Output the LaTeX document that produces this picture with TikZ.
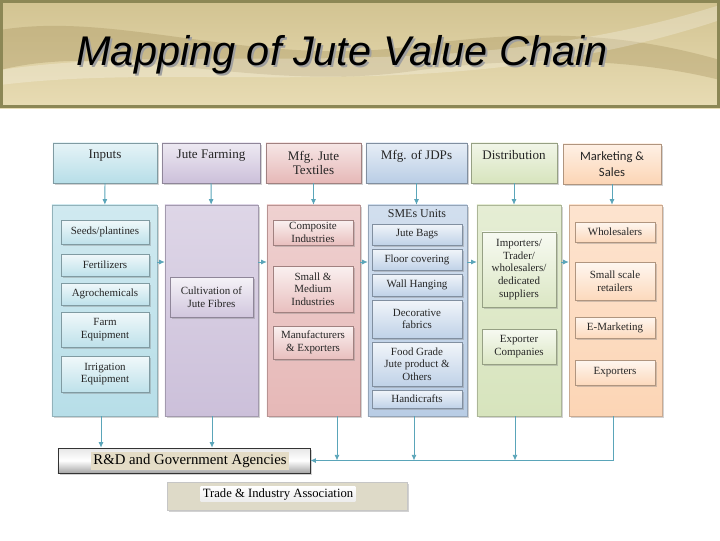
\documentclass[tikz,border=0pt]{standalone}
\usepackage{fontspec}
\setmainfont{Liberation Serif}
\newfontfamily\titlefont{Liberation Sans}
\newfontfamily\calfont{Carlito}
\usetikzlibrary{positioning,arrows.meta,calc,shadows}
\definecolor{inpc}{RGB}{183,222,232}
\definecolor{farmc}{RGB}{204,192,218}
\definecolor{texc}{RGB}{230,184,183}
\definecolor{jdpc}{RGB}{185,205,229}
\definecolor{distc}{RGB}{215,228,189}
\definecolor{mktc}{RGB}{252,213,181}
\definecolor{arrc}{RGB}{90,165,185}
\definecolor{goldl}{RGB}{232,220,180}
\definecolor{goldm}{RGB}{210,195,145}
\definecolor{goldd}{RGB}{165,145,92}
\definecolor{bordc}{RGB}{140,135,85}
\definecolor{tradec}{RGB}{222,218,200}
\definecolor{rdtxtc}{RGB}{228,220,198}

\begin{document}
\begin{tikzpicture}[x=0.025cm, y=-0.025cm,
  shad/.style={drop shadow={shadow xshift=1.2pt, shadow yshift=-1.2pt, opacity=.35}},
  hdr/.style={draw=#1!70!black, line width=.3pt, top color=#1!35, bottom color=#1,
    minimum height=1cm, align=center, font=\fontsize{9.3}{10.5}\selectfont, text=black!85, shad},
  hdrtop/.style={hdr=#1, text depth=12pt},
  col/.style={draw=#1!80!black, line width=.3pt, top color=#1!65, bottom color=#1,
    minimum height=5.275cm, shad},
  itm/.style={draw=#1!70!black, line width=.3pt, top color=#1!20, bottom color=#1!90,
    align=center, inner sep=1pt, font=\fontsize{7.8}{9}\selectfont, text=black!85, shad},
  arr/.style={draw=arrc, line width=.6pt, -{Latex[length=4pt, width=3.5pt]}},
  ttl/.style={font=\titlefont\itshape\fontsize{29.5}{32}\selectfont}]
  \useasboundingbox (0,0) rectangle (720,540);
  \fill[white] (0,0) rectangle (720,540);

  % banner
  \shade[top color=goldm, bottom color=goldl] (0,0) rectangle (720,108);
  \fill[goldd, opacity=.35] (0,30) .. controls (120,10) and (260,70) .. (420,45) .. controls (560,25) and (650,40) .. (720,60)
    -- (720,80) .. controls (640,60) and (540,55) .. (420,70) .. controls (260,95) and (120,40) .. (0,70) -- cycle;
  \fill[white, opacity=.25] (0,85) .. controls (200,60) and (450,110) .. (720,20)
    -- (720,5) .. controls (450,90) and (200,40) .. (0,70) -- cycle;
  \draw[bordc, line width=2.2pt] (1.5,1.5) rectangle (718.5,106.5);
  \node[ttl, text=gray!75] (ttlsh) at (344,57) {Mapping of Jute Value Chain};
  \node[ttl] (ttl) at (342,55) {Mapping of Jute Value Chain};

  % stage headers
  \node[hdrtop=inpc, minimum width=2.6cm] (inp) at (105,163) {Inputs};
  \node[hdrtop=farmc, minimum width=2.45cm] (farm) at (211,163) {Jute Farming};
  \node[hdr=texc, minimum width=2.375cm] (tex) at (313.5,163) {Mfg. Jute\\Textiles};
  \node[hdrtop=jdpc, minimum width=2.525cm] (jdp) at (416.5,163) {Mfg. of JDPs};
  \node[hdrtop=distc, minimum width=2.15cm] (dist) at (514,163) {Distribution};
  \node[hdr=mktc, minimum width=2.45cm, font=\calfont\fontsize{9}{11.5}\selectfont] (mkt) at (612,164) {Marketing \&\\Sales};

  % columns
  \node[col=inpc, minimum width=2.625cm] (cinp) at (104.5,310.5) {};
  \node[col=farmc, minimum width=2.325cm] (cfarm) at (211.5,310.5) {};
  \node[col=texc, minimum width=2.325cm] (ctex) at (313.5,310.5) {};
  \node[col=jdpc, minimum width=2.475cm] (cjdp) at (417.5,310.5) {};
  \node[col=distc, minimum width=2.1cm] (cdist) at (519,310.5) {};
  \node[col=mktc, minimum width=2.325cm] (cmkt) at (615.5,310.5) {};

  % inputs
  \node[itm=inpc, minimum width=2.2cm, minimum height=.6cm] (seeds) at (105,232) {Seeds/plantines};
  \node[itm=inpc, minimum width=2.2cm, minimum height=.55cm] (fert) at (105,265) {Fertilizers};
  \node[itm=inpc, minimum width=2.2cm, minimum height=.55cm] (agro) at (105,294) {Agrochemicals};
  \node[itm=inpc, minimum width=2.2cm, minimum height=.875cm] (farmeq) at (105,329.5) {Farm\\Equipment};
  \node[itm=inpc, minimum width=2.2cm, minimum height=.9cm] (irrig) at (105,374) {Irrigation\\Equipment};

  % farming
  \node[itm=farmc, minimum width=2.075cm, minimum height=1cm] (cult) at (211.5,297) {Cultivation of\\Jute Fibres};

  % jute textiles
  \node[itm=texc, minimum width=2cm, minimum height=.625cm] (comp) at (313,232.5) {Composite\\Industries};
  \node[itm=texc, minimum width=2cm, minimum height=1.15cm] (sme) at (313,289) {Small \&\\Medium\\Industries};
  \node[itm=texc, minimum width=2cm, minimum height=.825cm] (manu) at (313,342.5) {Manufacturers\\\& Exporters};

  % diversified products
  \node[font=\fontsize{8.5}{10}\selectfont, text=black!85] (smeu) at (417,214) {SMEs Units};
  \node[itm=jdpc, minimum width=2.25cm, minimum height=.525cm] (bags) at (417,234.5) {Jute Bags};
  \node[itm=jdpc, minimum width=2.25cm, minimum height=.525cm] (floor) at (417,259.5) {Floor covering};
  \node[itm=jdpc, minimum width=2.25cm, minimum height=.55cm] (wall) at (417,285) {Wall Hanging};
  \node[itm=jdpc, minimum width=2.25cm, minimum height=.95cm] (deco) at (417,319) {Decorative\\fabrics};
  \node[itm=jdpc, minimum width=2.25cm, minimum height=1.1cm] (food) at (417,364) {Food Grade\\Jute product \&\\Others};
  \node[itm=jdpc, minimum width=2.25cm, minimum height=.45cm] (handi) at (417,399) {Handicrafts};

  % distribution
  \node[itm=distc, minimum width=1.85cm, minimum height=1.875cm] (imp) at (519,269.5) {Importers/\\Trader/\\wholesalers/\\dedicated\\suppliers};
  \node[itm=distc, minimum width=1.85cm, minimum height=.875cm] (expc) at (519,346.5) {Exporter\\Companies};

  % marketing
  \node[itm=mktc, minimum width=2cm, minimum height=.5cm] (whole) at (615,232) {Wholesalers};
  \node[itm=mktc, minimum width=2cm, minimum height=.95cm] (small) at (615,281) {Small scale\\retailers};
  \node[itm=mktc, minimum width=2cm, minimum height=.525cm] (emkt) at (615,327.5) {E-Marketing};
  \node[itm=mktc, minimum width=2cm, minimum height=.625cm] (expo) at (615,372.5) {Exporters};

  % support bodies
  \node[draw=black!80, line width=.4pt, top color=gray!20, bottom color=gray!70, middle color=white,
    minimum width=6.3cm, minimum height=.625cm, shad] (rd) at (184,460.5) {};
  \node[fill=rdtxtc, inner sep=1.5pt, font=\fontsize{10.5}{12}\selectfont] (rdt) at (190,461) {R\&D and Government Agencies};
  \node[draw=gray!45, line width=.3pt, fill=tradec, minimum width=6cm, minimum height=.7cm, shad] (trade) at (287,496) {};
  \node[top color=white, bottom color=gray!15, inner sep=1.5pt, font=\fontsize{9}{11}\selectfont] (tradet) at (278,494) {Trade \& Industry Association};

  % flows
  \coordinate (lvl) at (0,262);
  \draw[arr] (inp) -- (cinp);
  \draw[arr] (farm) -- (cfarm);
  \draw[arr] (tex) -- (ctex);
  \draw[arr] (jdp.south) -- (jdp.south |- cjdp.north);
  \draw[arr] (dist.south) -- (dist.south |- cdist.north);
  \draw[arr] (mkt.south) -- (mkt.south |- cmkt.north);
  \draw[arr] (cinp.east |- lvl) -- (cfarm.west |- lvl);
  \draw[arr] (cfarm.east |- lvl) -- (ctex.west |- lvl);
  \draw[arr] (ctex.east |- lvl) -- (cjdp.west |- lvl);
  \draw[arr] (cjdp.east |- lvl) -- (cdist.west |- lvl);
  \draw[arr] (cdist.east |- lvl) -- (cmkt.west |- lvl);

  % drops to support bodies
  \coordinate (dinp) at (101,0);
  \coordinate (dfarm) at (212,0);
  \coordinate (dtex) at (337,0);
  \coordinate (djdp) at (414,0);
  \coordinate (ddist) at (515,0);
  \coordinate (dmkt) at (613,0);
  \draw[arr] (dinp |- cinp.south) -- (dinp |- rd.north);
  \draw[arr] (dfarm |- cfarm.south) -- (dfarm |- rd.north);
  \draw[arr] (dmkt |- cmkt.south) |- (rd.east);
  \draw[arr] (dtex |- ctex.south) -- (dtex |- rd.east);
  \draw[arr] (djdp |- cjdp.south) -- (djdp |- rd.east);
  \draw[arr] (ddist |- cdist.south) -- (ddist |- rd.east);
\end{tikzpicture}
\end{document}
